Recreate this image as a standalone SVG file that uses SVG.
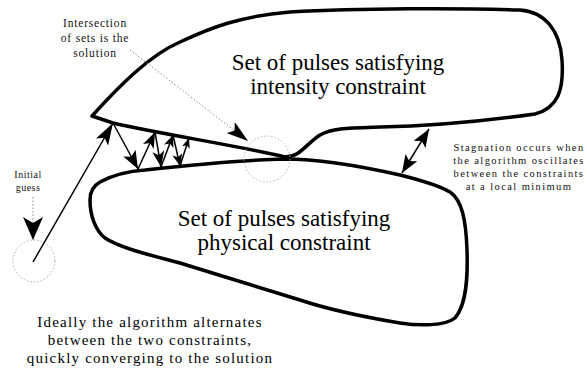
<svg xmlns="http://www.w3.org/2000/svg" width="587" height="374" viewBox="0 0 587 374">
<style>
.blob{fill:none;stroke:#000;stroke-width:3.5;stroke-linejoin:round;stroke-linecap:round}
.big{font-family:"Liberation Serif","Times New Roman",serif;font-size:23px;fill:#000;text-anchor:middle}
.mid{font-family:"Liberation Serif","Times New Roman",serif;font-size:15px;letter-spacing:1.2px;fill:#000;text-anchor:middle}
.small{font-family:"Liberation Serif","Times New Roman",serif;font-size:11.5px;letter-spacing:0.8px;fill:#111;text-anchor:middle}
.tiny{font-family:"Liberation Serif","Times New Roman",serif;font-size:10.5px;letter-spacing:1.4px;fill:#111;text-anchor:middle}
.dotc{fill:none;stroke:#aaa;stroke-width:1;stroke-dasharray:1.5 2}
.dotl{fill:none;stroke:#888;stroke-width:1;stroke-dasharray:1.5 2}
.arr{fill:none;stroke:#000;stroke-width:1.5}
</style>
<defs>
<marker id="hXL" viewBox="0 0 23 20" markerWidth="23" markerHeight="20" refX="23" refY="10" orient="auto" markerUnits="userSpaceOnUse"><path d="M0,0 L23,10 L0,20 L6,10 z"/></marker>
<marker id="hL" viewBox="0 0 22 14" markerWidth="22" markerHeight="14" refX="22" refY="7" orient="auto-start-reverse" markerUnits="userSpaceOnUse"><path d="M0,0 L22,7 L0,14 L5,7 z"/></marker>
<marker id="hB" viewBox="0 0 18 14" markerWidth="18" markerHeight="14" refX="18" refY="7" orient="auto-start-reverse" markerUnits="userSpaceOnUse"><path d="M0,0 L18,7 L0,14 L4,7 z"/></marker>
<marker id="hM" viewBox="0 0 16 12" markerWidth="16" markerHeight="12" refX="16" refY="6" orient="auto-start-reverse" markerUnits="userSpaceOnUse"><path d="M0,0 L16,6 L0,12 L4,6 z"/></marker>
<marker id="hS" viewBox="0 0 12 10" markerWidth="12" markerHeight="10" refX="12" refY="5" orient="auto" markerUnits="userSpaceOnUse"><path d="M0,0 L12,5 L0,10 L3,5 z"/></marker>
<marker id="hXS" viewBox="0 0 10 8" markerWidth="10" markerHeight="8" refX="10" refY="4" orient="auto" markerUnits="userSpaceOnUse"><path d="M0,0 L10,4 L0,8 L2.5,4 z"/></marker>
</defs>
<rect width="587" height="374" fill="#fff"/>
<g id="set-intensity">
<path class="blob" d="M92,116 C120,85 150,55 180,42 C210,28 240,16 290,12 C360,8 460,8 520,10 C545,12 560,30 562,60 C564,90 558,108 535,114 C500,119 440,126 380,127 C348,128 332,128 320,135 C306,144 300,157 285,157 C240,146 160,134 113,123 Z"/>
<text class="big" x="338" y="70">Set of pulses satisfying</text>
<text class="big" x="338" y="94">intensity constraint</text>
</g>
<g id="set-physical">
<path class="blob" d="M100,182 C115,174 130,171 145,170 C190,165 240,160 285,159 C320,159 360,166 400,175 C420,180 440,186 450,192 C462,200 466,220 467,250 C468,280 466,305 455,318 C445,326 420,326 400,323 C370,318 330,310 300,300 C260,288 220,275 180,263 C150,255 120,248 105,238 C95,230 90,215 90,200 C90,192 93,186 100,182 Z"/>
<text class="big" x="284" y="226">Set of pulses satisfying</text>
<text class="big" x="284" y="250">physical constraint</text>
</g>
<g id="solution-circle"><circle class="dotc" cx="267" cy="159" r="23"/></g>
<g id="initial-circle"><circle class="dotc" cx="34" cy="261" r="21"/></g>
<g id="note-intersection">
<text class="small" x="95" y="27">Intersection</text>
<text class="small" x="95" y="42">of sets is the</text>
<text class="small" x="95" y="57">solution</text>
</g>
<g id="note-initial">
<text class="small" style="font-size:10px;letter-spacing:0.5px" x="28" y="178">Initial</text>
<text class="small" style="font-size:10px;letter-spacing:0.5px" x="28" y="191">guess</text>
</g>
<g id="note-stagnation">
<text class="tiny" x="519" y="151">Stagnation occurs when</text>
<text class="tiny" x="519" y="164">the algorithm oscillates</text>
<text class="tiny" x="519" y="177">between the constraints</text>
<text class="tiny" x="519" y="190">at a local minimum</text>
</g>
<g id="note-ideal">
<text class="mid" x="150" y="327">Ideally the algorithm alternates</text>
<text class="mid" x="150" y="345">between the two constraints,</text>
<text class="mid" x="150" y="363">quickly converging to the solution</text>
</g>
<g id="connectors">
<line class="dotl" x1="130" y1="50" x2="248" y2="141" marker-end="url(#hL)"/>
<line class="dotl" x1="33" y1="197" x2="33" y2="240" marker-end="url(#hXL)"/>
<line class="arr" x1="33" y1="262" x2="113" y2="123" marker-end="url(#hL)"/>
<line class="arr" x1="113" y1="123" x2="138" y2="169" marker-end="url(#hB)"/>
<line class="arr" x1="138" y1="169" x2="155" y2="132" marker-end="url(#hM)"/>
<line class="arr" x1="155" y1="132" x2="161" y2="167" marker-end="url(#hM)"/>
<line class="arr" x1="161" y1="167" x2="173" y2="135" marker-end="url(#hS)"/>
<line class="arr" x1="173" y1="135" x2="180" y2="166" marker-end="url(#hS)"/>
<line class="arr" x1="180" y1="166" x2="189" y2="138" marker-end="url(#hXS)"/>
<line class="arr" x1="429" y1="129" x2="402" y2="173" marker-start="url(#hB)" marker-end="url(#hB)"/>
</g>
</svg>
